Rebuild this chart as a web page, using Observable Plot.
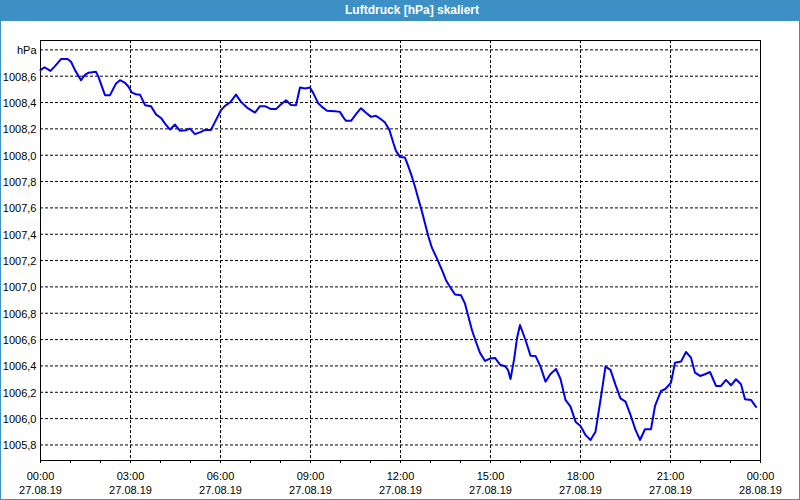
<!DOCTYPE html>
<html>
<head>
<meta charset="utf-8">
<script src="https://cdn.jsdelivr.net/npm/d3@7"></script>
<script src="https://cdn.jsdelivr.net/npm/@observablehq/plot@0.6"></script>
<style>
  html, body { margin: 0; padding: 0; background: #ffffff; }
  #win { position: relative; width: 800px; height: 500px; box-sizing: border-box;
         border-left: 1px solid #3c90c6; border-right: 1px solid #3c90c6; border-bottom: 1px solid #3c90c6;
         background: #ffffff; overflow: hidden; }
  #titlebar { position: absolute; left: -1px; top: 0; width: 800px; height: 21px; background: #3c90c6; }
  #title { position: absolute; left: 345px; top: 3px; color: #ffffff; font: bold 12px "Liberation Sans", Arial, sans-serif; white-space: nowrap; }
  #chart { position: absolute; left: 0; top: 21px; }
</style>
</head>
<body>
<div id="win">
  <div id="titlebar"><div id="title">Luftdruck [hPa] skaliert</div></div>
  <div id="chart"></div>
</div>
<script>
// minutes after 27.08.19 00:00
const minutes = [0,8,20,29,41,54,61,69,81,89,96,111,116,121,129,139,151,159,169,176,
  183,191,199,209,221,231,241,249,259,269,279,291,299,309,321,329,341,349,361,369,
  379,391,401,413,429,439,449,461,471,479,491,501,511,519,529,539,546,555,563,573,
  589,599,605,611,621,633,641,651,661,671,681,689,698,706,711,719,729,736,743,749,
  756,763,769,776,783,793,803,811,819,829,841,849,856,863,871,879,889,899,909,919,
  929,935,940,947,953,959,970,980,990,1000,1010,1020,1031,1040,1050,1060,1070,1080,1090,1100,
  1110,1120,1130,1140,1150,1160,1170,1180,1190,1199,1209,1221,1229,1241,1249,1261,1269,1281,1291,1301,
  1309,1319,1329,1339,1351,1361,1371,1381,1391,1401,1409,1421,1431];
// air pressure in hPa
const pressure = [1008.646,1008.668,1008.640,1008.676,1008.730,1008.730,1008.710,1008.646,1008.570,1008.610,
  1008.627,1008.633,1008.595,1008.540,1008.456,1008.456,1008.544,1008.570,1008.550,1008.520,
  1008.475,1008.463,1008.460,1008.380,1008.372,1008.310,1008.283,1008.240,1008.195,1008.233,
  1008.185,1008.190,1008.202,1008.160,1008.177,1008.192,1008.192,1008.253,1008.342,1008.375,
  1008.400,1008.460,1008.405,1008.362,1008.324,1008.372,1008.372,1008.350,1008.350,1008.380,
  1008.418,1008.382,1008.380,1008.514,1008.506,1008.514,1008.468,1008.397,1008.367,1008.337,
  1008.334,1008.329,1008.291,1008.261,1008.261,1008.322,1008.357,1008.322,1008.291,1008.299,
  1008.273,1008.248,1008.190,1008.089,1008.033,1007.987,1007.982,1007.911,1007.835,1007.760,
  1007.663,1007.570,1007.481,1007.380,1007.296,1007.215,1007.127,1007.051,1007.000,1006.942,
  1006.937,1006.873,1006.772,1006.671,1006.582,1006.499,1006.438,1006.456,1006.461,1006.410,
  1006.398,1006.370,1006.301,1006.446,1006.610,1006.711,1006.597,1006.478,1006.476,1006.395,
  1006.281,1006.339,1006.377,1006.301,1006.142,1006.091,1005.977,1005.944,1005.876,1005.838,
  1005.901,1006.142,1006.395,1006.370,1006.256,1006.154,1006.129,1006.028,1005.914,1005.838,
  1005.919,1005.919,1006.096,1006.210,1006.223,1006.273,1006.425,1006.433,1006.506,1006.463,
  1006.349,1006.324,1006.337,1006.354,1006.248,1006.248,1006.294,1006.253,1006.299,1006.261,
  1006.147,1006.142,1006.089];

// axis ticks
const xTickMinutes = [0,180,360,540,720,900,1080,1260,1440];
const xTickTimes = ["00:00","03:00","06:00","09:00","12:00","15:00","18:00","21:00","00:00"];
const xTickDates = ["27.08.19","27.08.19","27.08.19","27.08.19","27.08.19","27.08.19","27.08.19","27.08.19","28.08.19"];
const xGridMinutes = [180,360,540,720,900,1080,1260];
const xMinorMinutes = [60,120,240,300,420,480,600,660,780,840,960,1020,1140,1200,1320,1380];
const yTicks = [1005.8,1006.0,1006.2,1006.4,1006.6,1006.8,1007.0,1007.2,1007.4,1007.6,1007.8,1008.0,1008.2,1008.4,1008.6,1008.8];
const yTickLabels = ["1005,8","1006,0","1006,2","1006,4","1006,6","1006,8","1007,0","1007,2","1007,4","1007,6","1007,8","1008,0","1008,2","1008,4","1008,6","hPa"];
const yDomain = [1005.682, 1008.871];

const series = minutes.map((m, i) => ({m, p: pressure[i]}));
const xLabels = xTickMinutes.map((m, i) => ({m, t: xTickTimes[i], d: xTickDates[i]}));
const yLabelMap = new Map(yTicks.map((v, i) => [v, yTickLabels[i]]));

const chart = Plot.plot({
  width: 798,
  height: 478,
  marginLeft: 39,
  marginRight: 39,
  marginTop: 19,
  marginBottom: 39,
  style: {fontFamily: "'Liberation Sans', Arial, sans-serif", fontSize: "11px", background: "#ffffff", color: "#000000"},
  x: {type: "linear", domain: [0, 1440]},
  y: {type: "linear", domain: yDomain},
  marks: [
    Plot.ruleY(yTicks, {stroke: "#000000", strokeDasharray: "3,2", strokeWidth: 1}),
    Plot.ruleX(xGridMinutes, {stroke: "#000000", strokeDasharray: "3,2", strokeWidth: 1}),
    Plot.frame({stroke: "#000000", strokeWidth: 1}),
    Plot.axisX({ticks: xMinorMinutes.concat(xTickMinutes), tickSize: 3, tickFormat: () => "", label: null}),
    Plot.axisY({ticks: yTicks, tickSize: 0, tickPadding: 4, dy: 1, tickFormat: v => yLabelMap.get(v), label: null, fontSize: 11}),
    Plot.text(xLabels, {x: "m", text: "t", frameAnchor: "bottom", dy: 15.5, lineAnchor: "middle", fill: "#000000", fontSize: 11}),
    Plot.text(xLabels, {x: "m", text: "d", frameAnchor: "bottom", dy: 30, lineAnchor: "middle", fill: "#000000", fontSize: 11}),
    Plot.line(series, {x: "m", y: "p", stroke: "#0000ee", strokeWidth: 2})
  ]
});
document.getElementById("chart").appendChild(chart);
</script>
</body>
</html>
